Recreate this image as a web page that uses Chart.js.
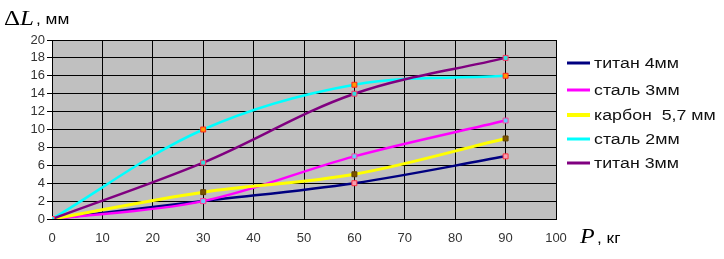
<!DOCTYPE html>
<html><head><meta charset="utf-8">
<script src="https://cdn.jsdelivr.net/npm/chart.js@4/dist/chart.umd.min.js"></script>
<style>html,body{margin:0;padding:0;background:#fff}#wrap{width:724px;height:259px;position:relative}</style>
</head><body><div id="wrap"><canvas id="c" width="724" height="259"></canvas></div>
<script>
// Data
const loads = [0, 30, 60, 90];                 // P, кг
const seriesNames = ['титан 4мм', 'сталь 3мм', 'карбон  5,7 мм', 'сталь 2мм', 'титан 3мм'];
const titan4 = [0, 2, 4, 7];
const steel3 = [0, 2, 7, 11];
const carbon57 = [0, 3, 5, 9];
const steel2 = [0, 10, 15, 16];
const titan3 = [0, 6.3, 14, 18];
const xTickValues = [0, 10, 20, 30, 40, 50, 60, 70, 80, 90, 100];
const yTickValues = [0, 2, 4, 6, 8, 10, 12, 14, 16, 18, 20];

const seriesValues = [titan4, steel3, carbon57, steel2, titan3];
const lineColors = ['#000080', '#ff00ff', '#ffff00', '#00ffff', '#800080'];
const markerFill = ['#f4a0b0', '#66ccff', '#7a5200', '#ff9900', '#33dddd'];
const markerBorder = ['#ff3040', '#ff40a0', '#604000', '#ff2020', '#ff3060'];

const datasets = seriesValues.map((vals, i) => ({
  label: seriesNames[i],
  data: loads.map((p, k) => ({x: p, y: vals[k]})),
  borderColor: lineColors[i],
  backgroundColor: markerFill[i],
  borderWidth: i === 2 ? 3 : 2.5,
  pointStyle: 'rect',
  pointRadius: 3.5,
  pointBackgroundColor: markerFill[i],
  pointBorderColor: markerBorder[i],
  pointBorderWidth: 1,
  tension: 0.35,
  fill: false,
  order: 4 - i
}));

function stretchText(ctx, text, x, y, font, sx, color) {
  ctx.save();
  ctx.font = font;
  ctx.fillStyle = color;
  ctx.textBaseline = 'alphabetic';
  ctx.textAlign = 'left';
  ctx.translate(x, y);
  ctx.scale(sx, 1);
  ctx.fillText(text, 0, 0);
  const w = ctx.measureText(text).width * sx;
  ctx.restore();
  return w;
}

const decor = {
  id: 'decor',
  beforeDraw(chart) {
    const {ctx, chartArea: a} = chart;
    ctx.save();
    ctx.fillStyle = '#fff';
    ctx.fillRect(0, 0, chart.width, chart.height);
    ctx.fillStyle = '#c0c0c0';
    ctx.fillRect(a.left, a.top, a.right - a.left, a.bottom - a.top);
    ctx.restore();
  },
  afterDraw(chart) {
    const ctx = chart.ctx;
    // axis titles
    let w = stretchText(ctx, 'Δ', 4, 25, '20px "Liberation Serif"', 1.25, '#000');
    w += stretchText(ctx, 'L', 4 + w, 25, 'italic 20px "Liberation Serif"', 1.25, '#000');
    stretchText(ctx, ', мм', 36, 24, '15px "Liberation Sans"', 1.15, '#000');
    stretchText(ctx, 'P', 580, 243, 'italic 20px "Liberation Serif"', 1.2, '#000');
    stretchText(ctx, ', кг', 597, 243, '15px "Liberation Sans"', 1.15, '#000');
    // legend
    const rows = [63, 90, 115, 139, 163];
    chart.data.datasets.forEach((ds, i) => {
      const y = rows[i];
      ctx.save();
      ctx.strokeStyle = ds.borderColor;
      ctx.lineWidth = i === 2 ? 4 : 3;
      ctx.beginPath();
      ctx.moveTo(567, y);
      ctx.lineTo(590, y);
      ctx.stroke();
      ctx.restore();
      stretchText(ctx, ds.label, 594, y + 5, '14px "Liberation Sans"', 1.27, '#111');
    });
  }
};

new Chart(document.getElementById('c'), {
  type: 'line',
  data: {datasets},
  options: {
    responsive: false,
    animation: false,
    layout: {padding: {top: 40, right: 168, left: 0, bottom: 0}},
    plugins: {legend: {display: false}, tooltip: {enabled: false}},
    scales: {
      x: {
        type: 'linear', min: 0, max: 100,
        afterBuildTicks: s => { s.ticks = xTickValues.map(v => ({value: v})); },
        afterFit: s => { s.height = 40; },
        grid: {color: '#000', lineWidth: 1, drawTicks: false},
        border: {color: '#000', width: 1},
        ticks: {color: '#333', font: {family: 'Liberation Sans', size: 13}, padding: 12, maxRotation: 0, autoSkip: false}
      },
      y: {
        min: 0, max: 20,
        afterBuildTicks: s => { s.ticks = yTickValues.map(v => ({value: v})); },
        afterFit: s => { s.width = 52; },
        grid: {color: '#000', lineWidth: 1, tickLength: 5},
        border: {color: '#000', width: 1},
        ticks: {color: '#333', font: {family: 'Liberation Sans', size: 13}, padding: 2, autoSkip: false}
      }
    }
  },
  plugins: [decor]
});
</script>
</body></html>
